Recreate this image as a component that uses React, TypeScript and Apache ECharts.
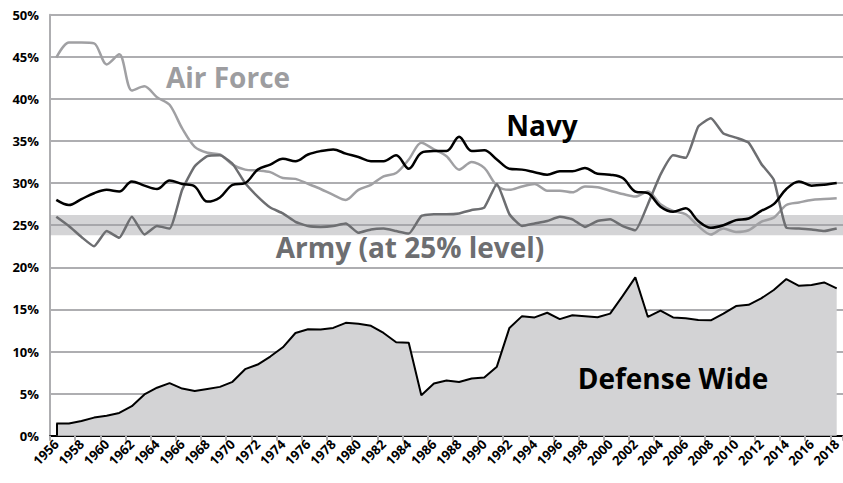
import React, { useEffect, useRef } from "react";
import * as echarts from "echarts";

const years = [
  "1956", "1957", "1958", "1959", "1960", "1961", "1962", "1963", "1964", "1965",
  "1966", "1967", "1968", "1969", "1970", "1971", "1972", "1973", "1974", "1975",
  "1976", "1977", "1978", "1979", "1980", "1981", "1982", "1983", "1984", "1985",
  "1986", "1987", "1988", "1989", "1990", "1991", "1992", "1993", "1994", "1995",
  "1996", "1997", "1998", "1999", "2000", "2001", "2002", "2003", "2004", "2005",
  "2006", "2007", "2008", "2009", "2010", "2011", "2012", "2013", "2014", "2015",
  "2016", "2017", "2018",
];

const airForce = [
  44.9, 46.7, 46.7, 46.6, 44.1, 45.3, 41.0, 41.5, 40.2, 39.3,
  36.5, 34.3, 33.6, 33.4, 32.2, 31.6, 31.5, 31.3, 30.6, 30.5,
  29.9, 29.3, 28.6, 28.0, 29.2, 29.8, 30.8, 31.2, 32.8, 34.8,
  34.0, 33.2, 31.6, 32.5, 31.8, 29.7, 29.2, 29.6, 29.9, 29.1,
  29.1, 28.9, 29.6, 29.5, 29.1, 28.7, 28.4, 29.0, 27.5, 26.7,
  26.3, 24.9, 23.9, 24.6, 24.2, 24.4, 25.4, 25.9, 27.4, 27.7,
  28.0, 28.1, 28.2,
];

const navy = [
  28.0, 27.4, 28.1, 28.8, 29.2, 29.0, 30.2, 29.7, 29.3, 30.3,
  29.9, 29.6, 27.8, 28.3, 29.8, 30.0, 31.6, 32.2, 32.9, 32.6,
  33.4, 33.8, 34.0, 33.5, 33.1, 32.6, 32.6, 33.3, 31.7, 33.6,
  33.8, 33.8, 35.5, 33.8, 33.9, 32.8, 31.7, 31.6, 31.3, 31.0,
  31.4, 31.4, 31.8, 31.1, 31.0, 30.6, 29.0, 28.8, 27.2, 26.6,
  27.0, 25.5, 24.7, 25.0, 25.6, 25.8, 26.7, 27.5, 29.3, 30.2,
  29.7, 29.8, 30.0,
];

const army = [
  26.0, 24.9, 23.6, 22.5, 24.3, 23.5, 26.0, 23.9, 24.9, 24.6,
  29.2, 32.0, 33.2, 33.3, 32.3, 30.0, 28.4, 27.1, 26.4, 25.4,
  24.9, 24.8, 24.9, 25.2, 24.1, 24.5, 24.6, 24.3, 24.0, 26.1,
  26.3, 26.3, 26.4, 26.8, 27.1, 29.9, 26.3, 24.9, 25.2, 25.5,
  26.0, 25.7, 24.8, 25.5, 25.7, 24.9, 24.4, 27.5, 31.0, 33.3,
  33.0, 36.7, 37.7, 35.9, 35.4, 34.8, 32.3, 30.4, 24.7, 24.6,
  24.5, 24.3, 24.6,
];

const defenseWide = [
  1.45, 1.45, 1.75, 2.15, 2.37, 2.7, 3.5, 4.9, 5.7, 6.25,
  5.6, 5.3, 5.55, 5.8, 6.4, 7.9, 8.45, 9.4, 10.5, 12.2,
  12.65, 12.6, 12.8, 13.4, 13.3, 13.05, 12.2, 11.1, 11.05, 4.8,
  6.2, 6.55, 6.37, 6.8, 6.9, 8.2, 12.8, 14.2, 14.05, 14.6,
  13.85, 14.3, 14.2, 14.07, 14.5, 16.6, 18.8, 14.1, 14.85, 14.05,
  13.95, 13.75, 13.7, 14.5, 15.4, 15.55, 16.3, 17.3, 18.6, 17.8,
  17.9, 18.2, 17.5,
];

const armyBand = [23.8, 26.2];

const labels = [
  { text: "Air Force", x: 228, y: 77, color: "#9d9da0" },
  { text: "Navy", x: 542, y: 125, color: "#000000" },
  { text: "Army (at 25% level)", x: 410, y: 247, color: "#6d6e71" },
  { text: "Defense Wide", x: 673, y: 378, color: "#000000" },
];

const FONT = "'Open Sans', 'Noto Sans', sans-serif";
const GRID = "#aeaeb1";

export default function App() {
  const ref = useRef<HTMLDivElement>(null);
  useEffect(() => {
    if (!ref.current) return;
    const chart = echarts.init(ref.current, undefined, { renderer: "svg" });
    chart.setOption({
      animation: false,
      grid: {
        left: 50,
        width: 793,
        top: 14.7,
        bottom: 47.3,
        containLabel: false,
        outerBoundsMode: "none",
      },
      xAxis: {
        type: "category",
        data: years,
        boundaryGap: true,
        axisLine: { show: true, lineStyle: { color: "#000", width: 2 } },
        axisTick: { show: true, interval: 1, length: 5, lineStyle: { color: GRID, width: 2 } },
        axisLabel: {
          interval: 1,
          rotate: 45,
          margin: 6,
          color: "#000",
          fontFamily: FONT,
          fontWeight: "bold",
          fontSize: 13,
        },
        splitLine: { show: false },
      },
      yAxis: {
        type: "value",
        min: 0,
        max: 50,
        interval: 5,
        axisLine: { show: true, lineStyle: { color: GRID, width: 2 } },
        axisTick: { show: false },
        axisLabel: {
          formatter: "{value}%",
          color: "#000",
          fontFamily: FONT,
          fontWeight: "bold",
          fontSize: 13,
          margin: 11,
        },
        splitLine: { show: true, lineStyle: { color: GRID, width: 2 } },
      },
      series: [
        {
          name: "Defense Wide",
          type: "line",
          data: defenseWide,
          symbol: "none",
          lineStyle: { color: "#000", width: 2 },
          areaStyle: { color: "#d3d3d5", opacity: 1 },
          markLine: {
            silent: true,
            symbol: "none",
            label: { show: false },
            lineStyle: { color: "#000", width: 2, type: "solid" },
            data: [[{ coord: [years[0], 0] }, { coord: [years[0], defenseWide[0]] }]],
          },
          markArea: {
            silent: true,
            itemStyle: { color: "rgba(160,160,164,0.45)" },
            data: [[{ yAxis: armyBand[0] }, { yAxis: armyBand[1] }]],
          },
          z: 2,
        },
        {
          name: "Air Force",
          type: "line",
          data: airForce,
          symbol: "none",
          smooth: 0.3,
          lineStyle: { color: "#a0a0a3", width: 2.5 },
          z: 3,
        },
        {
          name: "Army",
          type: "line",
          data: army,
          symbol: "none",
          smooth: 0.15,
          lineStyle: { color: "#6d6e71", width: 2.5 },
          z: 4,
        },
        {
          name: "Navy",
          type: "line",
          data: navy,
          symbol: "none",
          smooth: 0.35,
          lineStyle: { color: "#000", width: 2.5 },
          z: 5,
        },
      ],
      graphic: labels.map((l) => ({
        type: "text",
        x: l.x,
        y: l.y,
        z: 10,
        style: {
          text: l.text,
          fill: l.color,
          fontFamily: FONT,
          fontWeight: "bold",
          fontSize: 28,
          textAlign: "center",
          textVerticalAlign: "middle",
          align: "center",
          verticalAlign: "middle",
        },
      })),
    });
    return () => chart.dispose();
  }, []);
  return (
    <div
      ref={ref}
      style={{ position: "fixed", left: 0, top: 0, width: 843, height: 483, background: "#fff" }}
    />
  );
}
